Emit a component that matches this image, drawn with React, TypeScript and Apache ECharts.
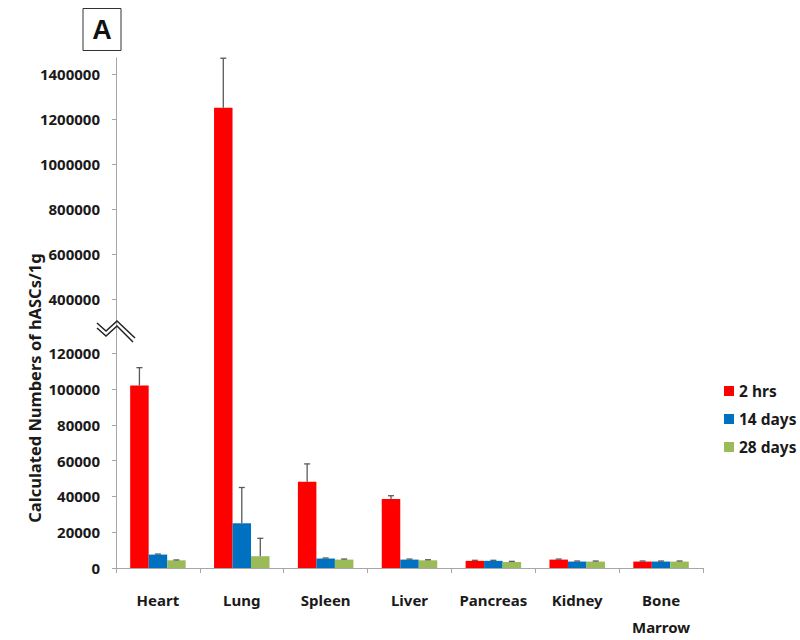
import React, { useEffect, useRef } from "react";
import * as echarts from "echarts";

const categories = ["Heart", "Lung", "Spleen", "Liver", "Pancreas", "Kidney", "Bone\nMarrow"];
const seriesNames = ["2 hrs", "14 days", "28 days"];
const hrs2 = [102000, 1250000, 48200, 38600, 4000, 4700, 3600];
const hrs2Err = [10000, 220000, 10000, 1800, 300, 300, 300];
const days14 = [7500, 25000, 5300, 4700, 4000, 3600, 3600];
const days14Err = [300, 20000, 300, 300, 300, 300, 300];
const days28 = [4300, 6600, 4700, 4300, 3400, 3600, 3600];
const days28Err = [200, 10000, 300, 300, 300, 300, 300];
const lowerTicks = [0, 20000, 40000, 60000, 80000, 100000, 120000];
const upperTicks = [400000, 600000, 800000, 1000000, 1200000, 1400000];

const colors = ["#ff0000", "#0070c0", "#9bbb59"];
const LOWER_MAX = 133611;
const UPPER_MIN = 268160;
const UPPER_MAX = 1471000;
const BAR_W = 18.5;
const FONT = "Noto Sans";
const TXT = "#1a1a1a";
const AXIS_GREY = "#a6a6a6";

export default function App() {
  const ref = useRef<HTMLDivElement>(null);
  useEffect(() => {
    const chart = echarts.init(ref.current!, null, { renderer: "svg" });
    const values = [hrs2, days14, days28];
    const errs = [hrs2Err, days14Err, days28Err];

    const series: any[] = [];
    values.forEach((vals, i) => {
      series.push({
        type: "bar",
        name: seriesNames[i],
        xAxisIndex: 0,
        yAxisIndex: 0,
        data: vals,
        barWidth: BAR_W,
        barGap: "0%",
        itemStyle: { color: colors[i] },
      });
      series.push({
        type: "bar",
        name: seriesNames[i],
        xAxisIndex: 1,
        yAxisIndex: 1,
        data: vals.map((v) => (v > UPPER_MIN ? v : "-")),
        barWidth: BAR_W,
        barGap: "0%",
        itemStyle: { color: colors[i] },
      });
    });

    const makeErr = (i: number, grid: number) => {
      const offset = (i - 1) * BAR_W;
      const data: any[] = [];
      values[i].forEach((v, k) => {
        const inLower = v + errs[i][k] < LOWER_MAX;
        if ((grid === 0 && inLower) || (grid === 1 && v > UPPER_MIN)) {
          data.push([k, v, errs[i][k]]);
        }
      });
      return {
        type: "custom",
        name: seriesNames[i],
        xAxisIndex: grid,
        yAxisIndex: grid,
        data,
        z: 5,
        renderItem: (params: any, api: any) => {
          const x = api.value(0);
          const v = api.value(1);
          const e = api.value(2);
          const base = api.coord([x, v]);
          const top = api.coord([x, v + e]);
          const px = base[0] + offset;
          const st = { stroke: "#595959", lineWidth: 1.3 };
          return {
            type: "group",
            children: [
              { type: "line", shape: { x1: px, y1: base[1], x2: px, y2: top[1] }, style: st },
              { type: "line", shape: { x1: px - 3, y1: top[1], x2: px + 3, y2: top[1] }, style: st },
            ],
          };
        },
      };
    };
    for (let i = 0; i < 3; i++) {
      series.push(makeErr(i, 0));
      series.push(makeErr(i, 1));
    }

    const yLabel = {
      fontFamily: FONT,
      fontWeight: "bold",
      fontSize: 15,
      color: TXT,
      margin: 16,
      formatter: (v: number) => String(v),
    };

    chart.setOption({
      animation: false,
      backgroundColor: "#ffffff",
      grid: [
        { left: 116, width: 587, top: 329, height: 240.5 },
        { left: 116, width: 587, top: 58, height: 271 },
      ],
      xAxis: [
        {
          type: "category",
          gridIndex: 0,
          data: categories,
          axisLine: { lineStyle: { color: AXIS_GREY, width: 1 } },
          axisTick: { show: true, length: 5, lineStyle: { color: AXIS_GREY } },
          axisLabel: {
            fontFamily: FONT,
            fontWeight: "bold",
            fontSize: 15,
            color: TXT,
            margin: 18,
            lineHeight: 27,
            interval: 0,
          },
        },
        {
          type: "category",
          gridIndex: 1,
          data: categories,
          show: false,
        },
      ],
      yAxis: [
        {
          type: "value",
          gridIndex: 0,
          min: 0,
          max: LOWER_MAX,
          splitLine: { show: false },
          axisLine: { show: true, lineStyle: { color: AXIS_GREY, width: 1 } },
          axisTick: { show: true, length: 4, customValues: lowerTicks, lineStyle: { color: AXIS_GREY } },
          axisLabel: { ...yLabel, customValues: lowerTicks },
        },
        {
          type: "value",
          gridIndex: 1,
          min: UPPER_MIN,
          max: UPPER_MAX,
          splitLine: { show: false },
          axisLine: { show: true, lineStyle: { color: AXIS_GREY, width: 1 } },
          axisTick: { show: true, length: 4, customValues: upperTicks, lineStyle: { color: AXIS_GREY } },
          axisLabel: { ...yLabel, customValues: upperTicks },
        },
      ],
      legend: {
        orient: "vertical",
        left: 719,
        top: 378,
        itemWidth: 10,
        itemHeight: 10,
        itemGap: 12,
        icon: "rect",
        data: seriesNames,
        textStyle: { fontFamily: FONT, fontWeight: "bold", fontSize: 15.5, color: TXT },
      },
      graphic: [
        {
          type: "rect",
          shape: { x: 83, y: 8.5, width: 38, height: 42 },
          style: { fill: "#fff", stroke: "#333", lineWidth: 1 },
        },
        {
          type: "text",
          x: 102,
          y: 30,
          style: {
            text: "A",
            fontFamily: "Liberation Sans",
            fontWeight: "bold",
            fontSize: 27,
            fill: "#111",
            align: "center",
            verticalAlign: "middle",
          },
        },
        {
          type: "text",
          x: 34,
          y: 388,
          rotation: Math.PI / 2,
          style: {
            text: "Calculated Numbers of hASCs/1g",
            fontFamily: FONT,
            fontWeight: "bold",
            fontSize: 16.5,
            fill: TXT,
            align: "center",
            verticalAlign: "middle",
          },
        },
        {
          type: "polyline",
          shape: { points: [[97, 323], [106, 331], [117, 321], [135, 338]] },
          style: { stroke: "#222", lineWidth: 1.5, fill: null },
          z: 10,
        },
        {
          type: "polyline",
          shape: { points: [[97, 328], [106, 336], [117, 326], [133, 342]] },
          style: { stroke: "#222", lineWidth: 1.5, fill: null },
          z: 10,
        },
      ],
      series,
    });
    return () => chart.dispose();
  }, []);
  return <div ref={ref} style={{ position: "fixed", left: 0, top: 0, width: 800, height: 640 }} />;
}
